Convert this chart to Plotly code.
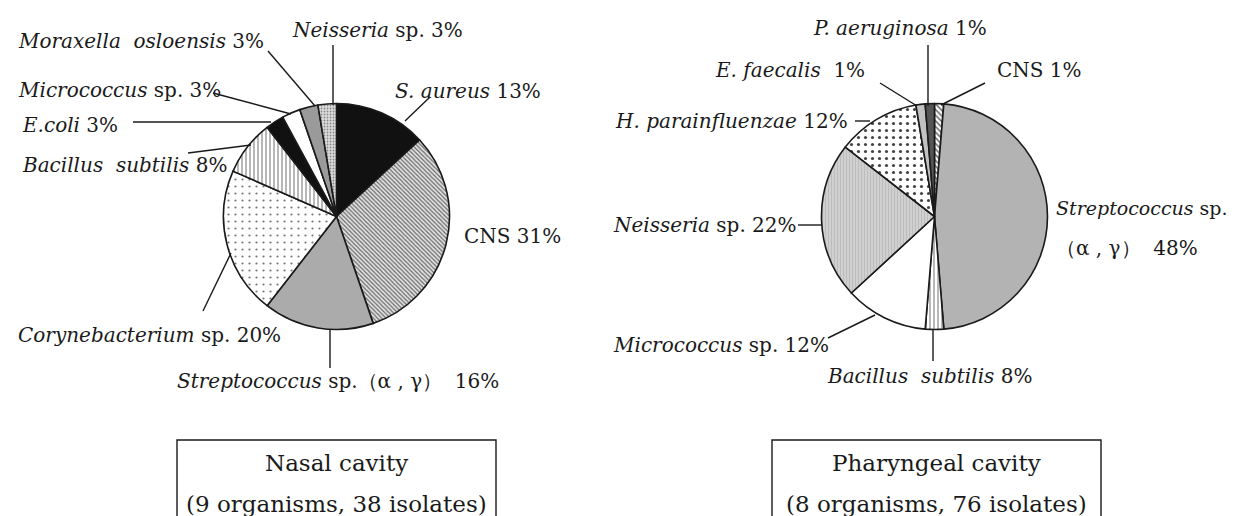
import plotly.graph_objects as go

# ---------------- data (isolate counts, clockwise from 12 o'clock) ----------------
nasal_names = ["S. aureus", "CNS", "Streptococcus sp.", "Corynebacterium sp.",
               "Bacillus subtilis", "E.coli", "Micrococcus sp.", "Moraxella osloensis",
               "Neisseria sp."]
nasal_counts = [5, 12, 6, 8, 3, 1, 1, 1, 1]

phar_names = ["CNS", "Streptococcus sp.", "Bacillus subtilis", "Micrococcus sp.",
              "Neisseria sp.", "H. parainfluenzae", "E. faecalis", "P. aeruginosa"]
phar_counts = [1, 36, 2, 9, 17, 9, 1, 1]

nasal_labels = [
    "<i>Moraxella</i>\u00a0\u00a0<i>osloensis</i>\u00a03%",
    "<i>Neisseria</i> sp. 3%",
    "<i>Micrococcus</i> sp. 3%",
    "<i>E.coli</i>\u00a03%",
    "<i>Bacillus</i>\u00a0\u00a0<i>subtilis</i>\u00a08%",
    "<i>S. aureus</i>\u00a013%",
    "CNS 31%",
    "<i>Corynebacterium</i> sp. 20%",
    "<i>Streptococcus</i> sp.\uff08\u03b1 , \u03b3\uff09\u00a0\u00a016%",
]
phar_labels = [
    "<i>P. aeruginosa</i>\u00a01%",
    "<i>E. faecalis</i>\u00a0\u00a01%",
    "CNS 1%",
    "<i>H. parainfluenzae</i>\u00a012%",
    "<i>Neisseria</i> sp. 22%",
    "<i>Streptococcus</i>\u00a0sp.",
    "\uff08\u03b1 , \u03b3\uff09\u00a0\u00a048%",
    "<i>Micrococcus</i> sp. 12%",
    "<i>Bacillus</i>\u00a0\u00a0<i>subtilis</i>\u00a08%",
]
box_titles = ["Nasal cavity", "Pharyngeal cavity"]
box_subtitles = ["(9 organisms, 38 isolates)", "(8 organisms, 76 isolates)"]

# ---------------- layout helpers ----------------
W, H = 1239, 516
FONT = "DejaVu Serif"
INK = "#1a1a1a"


def px(x):
    return x / W


def py(y):
    return 1 - y / H


def domain(cx, cy, r):
    return dict(x=[px(cx - r), px(cx + r)], y=[py(cy + r), py(cy - r)])


nasal_style = dict(
    colors=["#111111", "#dcdcdc", "#ababab", "#ffffff", "#ffffff",
            "#111111", "#ffffff", "#9a9a9a", "#d6d6d6"],
    shape=["", "\\", "", ".", "|", "", "", "", "."],
    fg=["#111111", "#6a6a6a", "#ababab", "#777777", "#888888",
        "#111111", "#ffffff", "#9a9a9a", "#8a8a8a"],
    bg=["#111111", "#e2e2e2", "#ababab", "#ffffff", "#ffffff",
        "#111111", "#ffffff", "#9a9a9a", "#dddddd"],
    size=[8, 3, 8, 7, 4, 8, 8, 8, 3],
    sol=[0.3, 0.4, 0.3, 0.08, 0.3, 0.3, 0.3, 0.3, 0.3],
)
phar_style = dict(
    colors=["#ffffff", "#b3b3b3", "#ffffff", "#ffffff", "#cdcdcd",
            "#ffffff", "#c2c2c2", "#555555"],
    shape=["\\", "", "|", "", "|", ".", "", ""],
    fg=["#555555", "#b3b3b3", "#888888", "#ffffff", "#bdbdbd",
        "#444444", "#c2c2c2", "#555555"],
    bg=["#ffffff", "#b3b3b3", "#ffffff", "#ffffff", "#d2d2d2",
        "#ffffff", "#c2c2c2", "#555555"],
    size=[4, 8, 4, 8, 3, 7, 8, 8],
    sol=[0.35, 0.3, 0.3, 0.3, 0.4, 0.16, 0.3, 0.3],
)


def pie(names, counts, style, dom):
    return go.Pie(
        labels=names, values=counts, sort=False, direction="clockwise",
        rotation=0, textinfo="none", showlegend=False, domain=dom,
        hoverinfo="label+percent",
        marker=dict(
            colors=style["colors"],
            line=dict(color=INK, width=1.6),
            pattern=dict(shape=style["shape"], fgcolor=style["fg"],
                         bgcolor=style["bg"], size=style["size"],
                         solidity=style["sol"]),
        ),
    )


fig = go.Figure()
fig.add_trace(pie(nasal_names, nasal_counts, nasal_style, domain(328.5, 208.5, 113)))
fig.add_trace(pie(phar_names, phar_counts, phar_style, domain(926.5, 208.5, 113)))

annotations = []
label_pos_nasal = [(8, 33), (282, 22), (8, 82), (12, 117), (12, 157),
                   (385, 83), (454, 228), (8, 327), (167, 373)]
label_pos_phar = [(803, 20), (705, 62), (987, 62), (605, 113), (603, 217),
                  (1046, 200), (1046, 240), (603, 337), (817, 368)]
label_sizes_phar = [20, 20, 20, 20, 20, 19, 20, 20, 20]
for txt, (x, y) in zip(nasal_labels, label_pos_nasal):
    annotations.append(dict(text=txt, x=px(x), y=py(y), xref="paper", yref="paper",
                            xanchor="left", yanchor="middle", showarrow=False,
                            font=dict(family=FONT, size=20, color=INK)))
for txt, (x, y), fs in zip(phar_labels, label_pos_phar, label_sizes_phar):
    annotations.append(dict(text=txt, x=px(x), y=py(y), xref="paper", yref="paper",
                            xanchor="left", yanchor="middle", showarrow=False,
                            font=dict(family=FONT, size=fs, color=INK)))

box_centers = [328.5, 928.5]
for t, s, cx in zip(box_titles, box_subtitles, box_centers):
    annotations.append(dict(text=t, x=px(cx), y=py(455), xref="paper", yref="paper",
                            xanchor="center", yanchor="middle", showarrow=False,
                            font=dict(family=FONT, size=23, color=INK)))
    annotations.append(dict(text=s, x=px(cx), y=py(496), xref="paper", yref="paper",
                            xanchor="center", yanchor="middle", showarrow=False,
                            font=dict(family=FONT, size=23, color=INK)))

leaders = [
    ((260, 43), (307, 98)), ((325, 37), (325, 97)), ((205, 85), (283, 106)),
    ((125, 114), (263, 114)), ((180, 145), (243, 137)), ((422, 89), (397, 113)),
    ((195, 303), (223, 245)), ((322, 321), (322, 360)),
    ((920, 37), (920, 98)), ((872, 75), (909, 98)), ((977, 75), (933, 97)),
    ((847, 113), (862, 113)), ((790, 217), (814, 217)), ((820, 330), (867, 307)),
    ((925, 322), (925, 353)),
]
shapes = []
for (x0, y0), (x1, y1) in leaders:
    shapes.append(dict(type="line", xref="paper", yref="paper",
                       x0=px(x0), y0=py(y0), x1=px(x1), y1=py(y1),
                       line=dict(color=INK, width=1.4)))
for x0, x1 in [(169, 488), (764, 1093)]:
    shapes.append(dict(type="rect", xref="paper", yref="paper",
                       x0=px(x0), y0=py(530), x1=px(x1), y1=py(432),
                       line=dict(color=INK, width=1.4), fillcolor="rgba(0,0,0,0)"))

fig.update_layout(
    width=W, height=H, margin=dict(l=0, r=0, t=0, b=0),
    paper_bgcolor="white", plot_bgcolor="white",
    annotations=annotations, shapes=shapes,
    font=dict(family=FONT, color=INK),
)
fig.write_html("out.html")
